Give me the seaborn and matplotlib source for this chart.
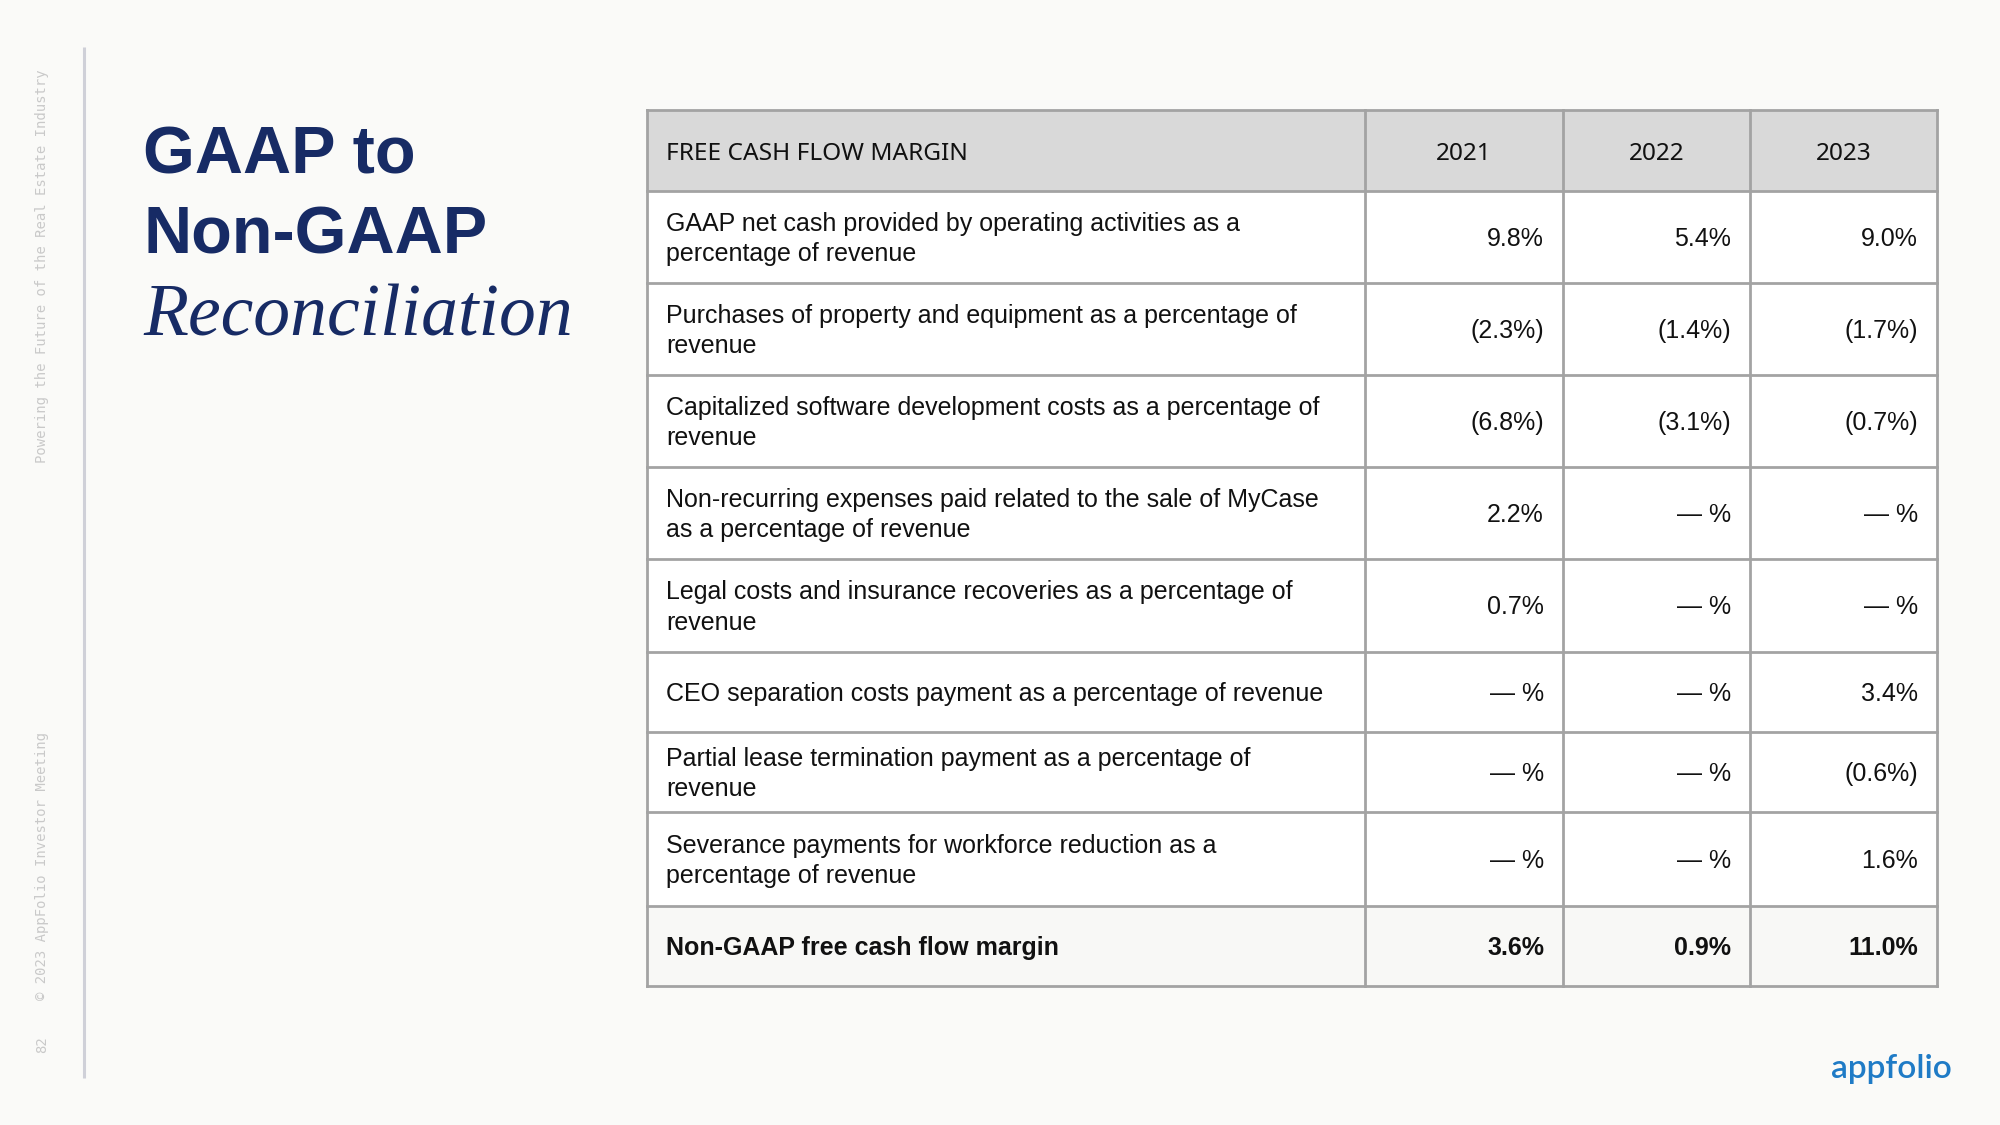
import matplotlib
matplotlib.use("Agg")
import matplotlib.pyplot as plt
from matplotlib.patches import Rectangle
import seaborn as sns

# ---------------- data ----------------
header_label = "FREE CASH FLOW MARGIN"
years = ["2021", "2022", "2023"]
row_labels = [
    "GAAP net cash provided by operating activities as a\npercentage of revenue",
    "Purchases of property and equipment as a percentage of\nrevenue",
    "Capitalized software development costs as a percentage of\nrevenue",
    "Non-recurring expenses paid related to the sale of MyCase\nas a percentage of revenue",
    "Legal costs and insurance recoveries as a percentage of\nrevenue",
    "CEO separation costs payment as a percentage of revenue",
    "Partial lease termination payment as a percentage of\nrevenue",
    "Severance payments for workforce reduction as a\npercentage of revenue",
    "Non-GAAP free cash flow margin",
]
vals_2021 = [9.8, -2.3, -6.8, 2.2, 0.7, None, None, None, 3.6]
vals_2022 = [5.4, -1.4, -3.1, None, None, None, None, None, 0.9]
vals_2023 = [9.0, -1.7, -0.7, None, None, 3.4, -0.6, 1.6, 11.0]
title_lines = ["GAAP to", "Non-GAAP", "Reconciliation"]
side_top = "Powering the Future of the Real Estate Industry"
side_bottom = "© 2023 AppFolio Investor Meeting"
page_number = "82"
logo_text = "appfolio"


def fmt(v):
    if v is None:
        return "— %"
    if v < 0:
        return f"({abs(v):.1f}%)"
    return f"{v:.1f}%"


# ---------------- style ----------------
sns.set_theme(style="white")
BG = "#fafaf8"
NAVY = "#172b65"
GRID = "#a3a3a3"
TEXT = "#111111"

fig = plt.figure(figsize=(20, 11.25), dpi=100, facecolor=BG)
ax = fig.add_axes([0, 0, 1, 1])
ax.set_xlim(0, 2000)
ax.set_ylim(1125, 0)
ax.axis("off")
ax.set_facecolor(BG)

# side decorations
ax.plot([84, 84], [47, 1078], color="#cfd0d8", lw=2.2, solid_capstyle="butt")
mono = "DejaVu Sans Mono"
ax.text(42, 266, side_top, rotation=90, ha="center", va="center",
        family=mono, fontsize=10, color="#c9c9c9")
ax.text(42, 866, side_bottom, rotation=90, ha="center", va="center",
        family=mono, fontsize=10, color="#c9c9c9")
ax.text(42, 1045, page_number, rotation=90, ha="center", va="center",
        family=mono, fontsize=10, color="#c9c9c9")

# title
ax.text(143, 157, title_lines[0], ha="left", va="center", family="Liberation Sans",
        weight="bold", fontsize=48, color=NAVY)
ax.text(143, 237, title_lines[1], ha="left", va="center", family="Liberation Sans",
        weight="bold", fontsize=48, color=NAVY)
ax.text(143, 318, title_lines[2], ha="left", va="center", family="Liberation Serif",
        style="italic", fontsize=53, color=NAVY)

# table geometry
x_edges = [647, 1365, 1563, 1750, 1937]
y_edges = [110, 191, 283, 375, 467, 559, 652, 732, 812, 906, 986]
pad = 19
dy = 2

n_rows = len(row_labels) + 1
columns = [vals_2021, vals_2022, vals_2023]
for r in range(n_rows):
    y0, y1 = y_edges[r], y_edges[r + 1]
    if r == 0:
        fc = "#d9d9d9"
    elif r == n_rows - 1:
        fc = "#f8f8f6"
    else:
        fc = "#ffffff"
    for c in range(4):
        x0, x1 = x_edges[c], x_edges[c + 1]
        ax.add_patch(Rectangle((x0, y0), x1 - x0, y1 - y0, facecolor=fc,
                               edgecolor="none", zorder=1))
    yc = (y0 + y1) / 2 + dy
    if r == 0:
        ax.text(x_edges[0] + pad, yc + 1, header_label, ha="left", va="center",
                family="Noto Sans", fontsize=17.6, color=TEXT, zorder=3)
        for c, yr in enumerate(years):
            ax.text((x_edges[c + 1] + x_edges[c + 2]) / 2, yc + 1, yr, ha="center",
                    va="center", family="Noto Sans", fontsize=17.6, color=TEXT, zorder=3)
    else:
        i = r - 1
        bold = (r == n_rows - 1)
        w = "bold" if bold else "normal"
        ax.text(x_edges[0] + pad, yc, row_labels[i], ha="left", va="center",
                family="Liberation Sans", weight=w, fontsize=18, color=TEXT,
                linespacing=1.32, zorder=3)
        for c, col in enumerate(columns):
            ax.text(x_edges[c + 2] - pad, yc, fmt(col[i]), ha="right", va="center",
                    family="Liberation Sans", weight=w, fontsize=18, color=TEXT,
                    zorder=3)

# grid lines
for x in x_edges:
    ax.plot([x, x], [y_edges[0], y_edges[-1]], color=GRID, lw=2.0, zorder=4,
            solid_capstyle="projecting")
for y in y_edges:
    ax.plot([x_edges[0], x_edges[-1]], [y, y], color=GRID, lw=2.0, zorder=4,
            solid_capstyle="projecting")

# logo
ax.text(1952, 1069, logo_text, ha="right", va="center", family="Lato",
        weight="semibold", fontsize=24, color="#1f7bc6")

fig.savefig("out.png", dpi=100, facecolor=BG)
